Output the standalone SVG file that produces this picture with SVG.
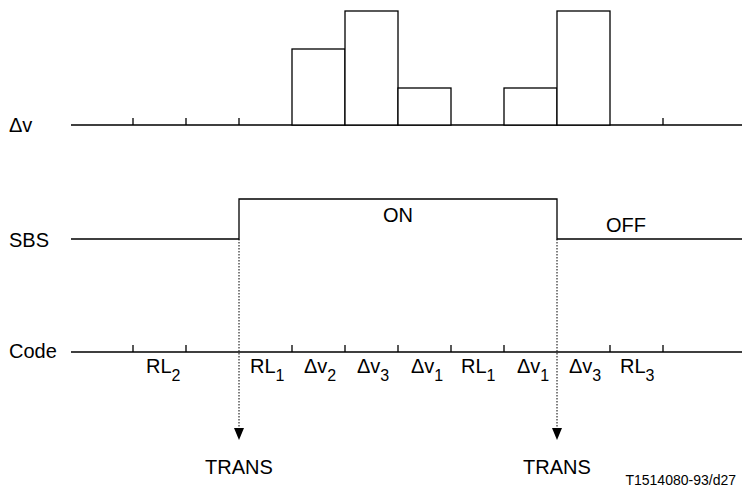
<svg xmlns="http://www.w3.org/2000/svg" width="742" height="490" viewBox="0 0 742 490">
<defs>
<style>
.ln{stroke:#000;stroke-width:1.3;fill:none}
.bar{stroke:#000;stroke-width:1.3;fill:#fff}
.dot{stroke:#000;stroke-width:1;stroke-dasharray:1.5 1.5;fill:none}
text{font-family:"Liberation Sans",Arial,sans-serif;font-size:20px;fill:#000}
.sub{font-size:16px}
.small{font-size:14px}
.mid{text-anchor:middle}
</style>
<marker id="ah" viewBox="0 0 10 12" refX="5" refY="12" markerWidth="10" markerHeight="12" markerUnits="userSpaceOnUse" orient="auto-start-reverse">
<path d="M0,0 L10,0 L5,12 z" fill="#000"/>
</marker>
</defs>
<rect width="742" height="490" fill="#fff"/>

<g id="dv-axis">
<text x="9" y="132">Δv</text>
<path class="ln" d="M71,125 H742 M133,125 V118 M186,125 V118 M239,125 V118 M663,125 V118"/>
<rect class="bar" x="292" y="49" width="53" height="76"/>
<rect class="bar" x="345" y="11" width="53" height="114"/>
<rect class="bar" x="398" y="88" width="53" height="37"/>
<rect class="bar" x="504" y="88" width="53" height="37"/>
<rect class="bar" x="557" y="11" width="53" height="114"/>
</g>

<g id="sbs">
<text x="9" y="247">SBS</text>
<path class="ln" d="M71,239 H239 V199 H557 V239 H742"/>
<text class="mid" x="398" y="222">ON</text>
<text class="mid" x="626" y="232">OFF</text>
</g>

<g id="code-axis">
<text x="9" y="358">Code</text>
<path class="ln" d="M71,352 H742 M133,352 V345 M186,352 V345 M292,352 V345 M345,352 V345 M398,352 V345 M451,352 V345 M504,352 V345 M610,352 V345 M663,352 V345"/>
<text x="146" y="373">RL<tspan class="sub" dy="8">2</tspan></text>
<text x="250" y="373">RL<tspan class="sub" dy="8">1</tspan></text>
<text x="304" y="373">Δv<tspan class="sub" dy="8">2</tspan></text>
<text x="357" y="373">Δv<tspan class="sub" dy="8">3</tspan></text>
<text x="411" y="373">Δv<tspan class="sub" dy="8">1</tspan></text>
<text x="461" y="373">RL<tspan class="sub" dy="8">1</tspan></text>
<text x="517" y="373">Δv<tspan class="sub" dy="8">1</tspan></text>
<text x="569" y="373">Δv<tspan class="sub" dy="8">3</tspan></text>
<text x="620" y="373">RL<tspan class="sub" dy="8">3</tspan></text>
</g>

<g id="connectors">
<path class="dot" d="M239,239 V428"/>
<path class="dot" d="M557,239 V428"/>
<path d="M234,428 H244 L239,440 z" fill="#000"/>
<path d="M552,428 H562 L557,440 z" fill="#000"/>
</g>

<g id="trans1"><text class="mid" x="239" y="474">TRANS</text></g>
<g id="trans2"><text class="mid" x="557" y="474">TRANS</text></g>
<text class="small" x="736" y="485" text-anchor="end">T1514080-93/d27</text>
</svg>
